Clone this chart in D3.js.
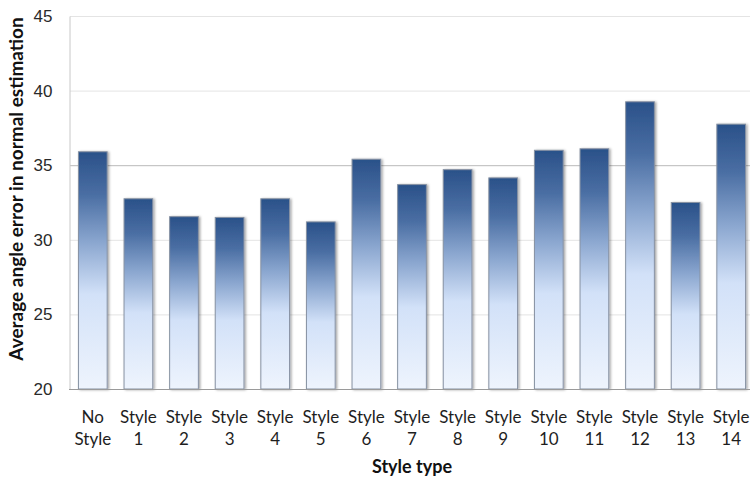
<!DOCTYPE html>
<html>
<head>
<meta charset="utf-8">
<script src="https://cdn.jsdelivr.net/npm/d3@7"></script>
<style>
  html, body { margin: 0; padding: 0; background: #fff; }
  svg { display: block; font-family: Lato, "Open Sans", sans-serif; }
</style>
</head>
<body>
<svg id="chart" width="750" height="479"></svg>
<script>
// Category labels (two lines each) and average angle error per style
const categories = ["No Style", "Style 1", "Style 2", "Style 3", "Style 4", "Style 5", "Style 6", "Style 7",
  "Style 8", "Style 9", "Style 10", "Style 11", "Style 12", "Style 13", "Style 14"];
const labelLine1 = ["No", "Style", "Style", "Style", "Style", "Style", "Style", "Style",
  "Style", "Style", "Style", "Style", "Style", "Style", "Style"];
const labelLine2 = ["Style", "1", "2", "3", "4", "5", "6", "7", "8", "9", "10", "11", "12", "13", "14"];
const values = [35.9, 32.75, 31.55, 31.5, 32.75, 31.2, 35.4, 33.7, 34.7, 34.15, 36.0, 36.1, 39.25, 32.5, 37.75];
const yTicks = [20, 25, 30, 35, 40, 45];

const svg = d3.select("#chart");
const plotLeft = 70, plotRight = 754, plotTop = 16, plotBottom = 389;

const x = d3.scaleBand().domain(categories).range([plotLeft, plotRight]).paddingInner(0.37).paddingOuter(0.185);
const y = d3.scaleLinear().domain([20, 45]).range([plotBottom, plotTop]);

// Vertical gradient used by every bar
const defs = svg.append("defs");
const grad = defs.append("linearGradient").attr("id", "barFill")
  .attr("x1", 0).attr("y1", 0).attr("x2", 0).attr("y2", 1);
[[0, "#2a5189"], [0.18, "#4a6ea3"], [0.38, "#8aa6cf"], [0.6, "#d2e1f8"], [1, "#eef4fd"]]
  .forEach(([o, c]) => grad.append("stop").attr("offset", o).attr("stop-color", c));

const shadow = defs.append("filter").attr("id", "barShadow")
  .attr("x", "-20%").attr("y", "-5%").attr("width", "150%").attr("height", "115%");
shadow.append("feDropShadow").attr("dx", 1.5).attr("dy", 0.5).attr("stdDeviation", 0.8)
  .attr("flood-color", "#000").attr("flood-opacity", 0.35);

// Horizontal gridlines
svg.append("g").selectAll("line").data(yTicks.filter(t => t > 20)).join("line")
  .attr("x1", plotLeft).attr("x2", 750)
  .attr("y1", d => y(d) + 0.5).attr("y2", d => y(d) + 0.5)
  .attr("stroke", d => d === 35 ? "#b9b9b9" : "#e4e4e4").attr("stroke-width", 1);

// Y axis
const yAxis = svg.append("g").attr("transform", `translate(${plotLeft - 0.5},0)`)
  .call(d3.axisLeft(y).tickValues(yTicks).tickSize(0).tickPadding(17));
yAxis.select(".domain").attr("stroke", "#c8c8c8");
yAxis.selectAll("text").attr("font-size", 17).attr("fill", "#2a2a2a");

// Bars
svg.append("g").selectAll("rect").data(values).join("rect")
  .attr("x", (d, i) => x(categories[i]))
  .attr("y", d => y(d))
  .attr("width", x.bandwidth())
  .attr("height", d => y(20) - y(d))
  .attr("fill", "url(#barFill)")
  .attr("stroke", "#8792a3").attr("stroke-width", 1)
  .attr("filter", "url(#barShadow)");

// Baseline
svg.append("line").attr("x1", plotLeft - 1).attr("x2", 750)
  .attr("y1", plotBottom + 0.5).attr("y2", plotBottom + 0.5)
  .attr("stroke", "#9a9a9a").attr("stroke-width", 1.2);

// X tick labels (two lines)
const xl = svg.append("g").attr("font-size", 17).attr("fill", "#1e1e1e").attr("text-anchor", "middle");
categories.forEach((c, i) => {
  const cx = x(c) + x.bandwidth() / 2;
  xl.append("text").attr("x", cx).attr("y", 423).text(labelLine1[i]);
  xl.append("text").attr("x", cx).attr("y", 445).text(labelLine2[i]);
});

// Axis titles
svg.append("text").attr("x", (plotLeft + plotRight) / 2).attr("y", 473)
  .attr("text-anchor", "middle").attr("font-size", 18).attr("font-weight", "bold").attr("fill", "#111")
  .text("Style type");
svg.append("text").attr("transform", `translate(23,189) rotate(-90)`)
  .attr("text-anchor", "middle").attr("font-size", 19).attr("font-weight", "bold").attr("fill", "#111")
  .text("Average angle error in normal estimation");
</script>
</body>
</html>
